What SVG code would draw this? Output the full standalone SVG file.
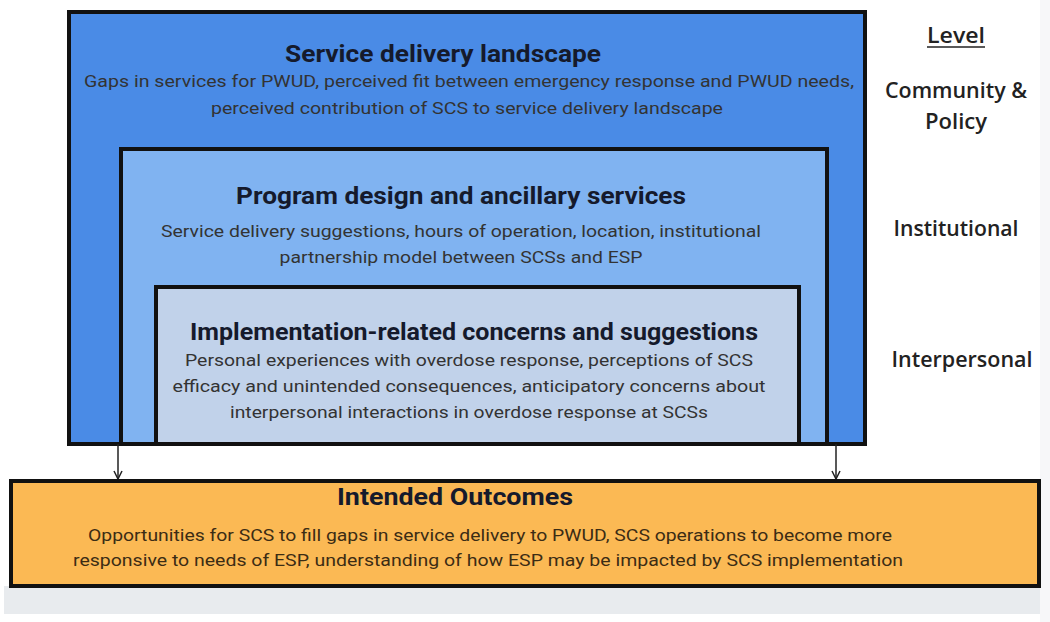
<svg xmlns="http://www.w3.org/2000/svg" width="1050" height="622" viewBox="0 0 1050 622">
<defs>
<marker id="ah" viewBox="0 0 10 10" refX="9" refY="5" markerWidth="10" markerHeight="10" markerUnits="userSpaceOnUse" orient="auto">
<path d="M1,1 L9,5 L1,9" fill="none" stroke="#222" stroke-width="1.5"/>
</marker>
</defs>
<style>
.box{stroke:#111;stroke-width:4}
.t{font-family:Roboto,"Liberation Sans",sans-serif;font-weight:700;fill:#151a2c;text-anchor:middle;font-size:23px}
.d{font-family:Roboto,"Liberation Sans",sans-serif;fill:#333;text-anchor:middle;font-size:16.5px}
.o{fill:#3b2c14}
.lv{font-family:"Open Sans","Liberation Sans",sans-serif;font-weight:600;fill:#222;text-anchor:middle;font-size:21px}
.c{stroke:#222;stroke-width:1.5;fill:none}
</style>
<rect width="1050" height="622" fill="#ffffff"/>
<rect x="4" y="586" width="1038" height="28" fill="#e8ebee"/>
<rect x="1040" y="0" width="10" height="622" fill="#f7f7f9"/>
<g id="outer">
<rect class="box" x="69" y="12" width="796" height="432" fill="#4a8be6"/>
<text class="t" x="443" y="62" textLength="316" lengthAdjust="spacingAndGlyphs">Service delivery landscape</text>
<text class="d" x="469" y="87" textLength="770" lengthAdjust="spacingAndGlyphs">Gaps in services for PWUD, perceived fit between emergency response and PWUD needs,</text>
<text class="d" x="467" y="114" textLength="512" lengthAdjust="spacingAndGlyphs">perceived contribution of SCS to service delivery landscape</text>
</g>
<g id="middle">
<rect class="box" x="121" y="149" width="706" height="295" fill="#80b3f1"/>
<text class="t" x="461" y="204" textLength="450" lengthAdjust="spacingAndGlyphs">Program design and ancillary services</text>
<text class="d" x="461" y="237" textLength="600" lengthAdjust="spacingAndGlyphs">Service delivery suggestions, hours of operation, location, institutional</text>
<text class="d" x="461" y="263" textLength="363" lengthAdjust="spacingAndGlyphs">partnership model between SCSs and ESP</text>
</g>
<g id="inner">
<rect class="box" x="156" y="287" width="643" height="157" fill="#c1d2ea"/>
<text class="t" x="474" y="340" textLength="568" lengthAdjust="spacingAndGlyphs">Implementation-related concerns and suggestions</text>
<text class="d" x="469" y="366" textLength="568" lengthAdjust="spacingAndGlyphs">Personal experiences with overdose response, perceptions of SCS</text>
<text class="d" x="469" y="392" textLength="593" lengthAdjust="spacingAndGlyphs">efficacy and unintended consequences, anticipatory concerns about</text>
<text class="d" x="469" y="418" textLength="478" lengthAdjust="spacingAndGlyphs">interpersonal interactions in overdose response at SCSs</text>
</g>
<g id="levels">
<text class="lv" x="956" y="43" textLength="58" lengthAdjust="spacingAndGlyphs">Level</text>
<line x1="927" y1="47" x2="985" y2="47" stroke="#222" stroke-width="1.5"/>
<text class="lv" x="956" y="98" textLength="142" lengthAdjust="spacingAndGlyphs">Community &amp;</text>
<text class="lv" x="956" y="129" textLength="62" lengthAdjust="spacingAndGlyphs">Policy</text>
<text class="lv" x="956" y="236" textLength="125" lengthAdjust="spacingAndGlyphs">Institutional</text>
<text class="lv" x="962" y="367" textLength="141" lengthAdjust="spacingAndGlyphs">Interpersonal</text>
</g>
<g id="connectors">
<line class="c" x1="118" y1="444" x2="118" y2="479" marker-end="url(#ah)"/>
<line class="c" x1="836" y1="444" x2="836" y2="479" marker-end="url(#ah)"/>
</g>
<g id="outcomes">
<rect class="box" x="11" y="481" width="1028" height="105" fill="#fbb954"/>
<text class="t" x="455" y="505" textLength="236" lengthAdjust="spacingAndGlyphs">Intended Outcomes</text>
<text class="d o" x="490" y="541" textLength="804" lengthAdjust="spacingAndGlyphs">Opportunities for SCS to fill gaps in service delivery to PWUD, SCS operations to become more</text>
<text class="d o" x="488" y="566" textLength="830" lengthAdjust="spacingAndGlyphs">responsive to needs of ESP, understanding of how ESP may be impacted by SCS implementation</text>
</g>
</svg>
